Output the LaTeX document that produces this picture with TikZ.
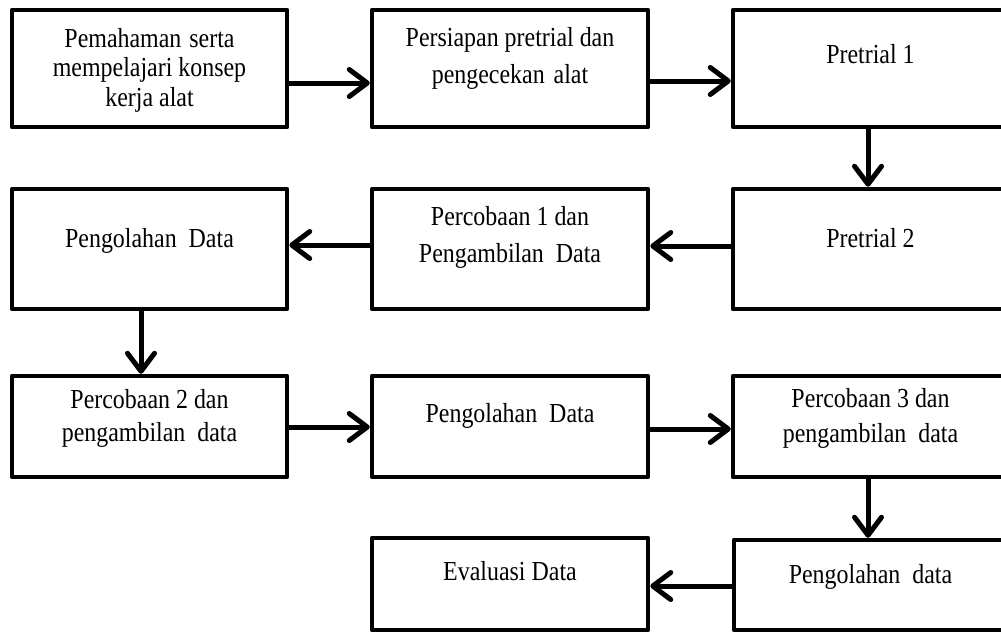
\documentclass[tikz,border=0pt]{standalone}
\usepackage{fontspec}
\setmainfont{Liberation Serif}[FakeStretch=0.87]
\usetikzlibrary{arrows.meta}
\tikzset{
  flowbox/.style={draw=black, line width=4.5pt, line join=round, rectangle, inner sep=0pt},
  flowtext/.style={anchor=base, inner sep=0pt, font=\fontsize{27.5}{#1}\selectfont},
  flowtext/.default=30,
  flowarrow/.style={line width=5pt, -{Straight Barb[length=18pt,width=27pt,round]}}
}
\newcommand\mkbox[5]{%
  \node[flowbox, minimum width=#4-#2, minimum height=#5-#3] (#1) at ({(#2+#4)/2},{(#3+#5)/2}) {};}
\begin{document}
\begin{tikzpicture}[x=1pt,y=-1pt]
\useasboundingbox (0,0) rectangle (1001,632);
\clip (0,0) rectangle (1001,632);
\fill[white] (0,0) rectangle (1001,632);
% boxes
\mkbox{b1}{12}{10}{287}{127}
\mkbox{b2}{372}{10}{648}{127}
\mkbox{b3}{733}{10}{1008}{127}
\mkbox{b4}{12}{189}{287}{309}
\mkbox{b5}{372}{189}{648}{309}
\mkbox{b6}{733}{189}{1008}{309}
\mkbox{b7}{12}{376}{287}{477}
\mkbox{b8}{372}{376}{648}{477}
\mkbox{b9}{733}{376}{1008}{477}
\mkbox{b10}{372}{538}{648}{630}
\mkbox{b11}{734}{540}{1008}{630}
% texts
\node[flowtext=29.5] (t1) at (149.5,47) {\begin{tabular}[t]{@{}c@{}}Pemahaman\hspace{2pt} serta\\ mempelajari konsep\\ kerja alat\end{tabular}};
\node[flowtext=37] (t2) at (510,46) {\begin{tabular}[t]{@{}c@{}}Persiapan pretrial dan\\ pengecekan\hspace{3pt} alat\end{tabular}};
\node[flowtext] (t3) at (870.5,63) {Pretrial 1};
\node[flowtext] (t4) at (149.5,247) {Pengolahan\ \ Data};
\node[flowtext=37] (t5) at (510,225) {\begin{tabular}[t]{@{}c@{}}Percobaan 1 dan\\ Pengambilan\ \ Data\end{tabular}};
\node[flowtext] (t6) at (870.5,247) {Pretrial 2};
\node[flowtext=33] (t7) at (149.5,408) {\begin{tabular}[t]{@{}c@{}}Percobaan 2 dan\\ pengambilan\ \ data\end{tabular}};
\node[flowtext] (t8) at (510,422) {Pengolahan\ \ Data};
\node[flowtext=35] (t9) at (870.5,407) {\begin{tabular}[t]{@{}c@{}}Percobaan 3 dan\\ pengambilan\ \ data\end{tabular}};
\node[flowtext] (t10) at (510,580) {Evaluasi Data};
\node[flowtext] (t11) at (870.5,583) {Pengolahan\ \ data};
% arrows
\draw[flowarrow] ([yshift=-14.5pt]b1.east) -- ([yshift=-14.5pt]b2.west);
\draw[flowarrow] ([yshift=-12.5pt]b2.east) -- ([yshift=-12.5pt]b3.west);
\draw[flowarrow] ([xshift=-2.5pt]b3.south) -- ([xshift=-2.5pt]b6.north);
\draw[flowarrow] ([yshift=3pt]b6.west) -- ([yshift=3pt]b5.east);
\draw[flowarrow] ([yshift=4pt]b5.west) -- ([yshift=4pt]b4.east);
\draw[flowarrow] ([xshift=-8.5pt]b4.south) -- ([xshift=-8.5pt]b7.north);
\draw[flowarrow] ([yshift=-0.5pt]b7.east) -- ([yshift=-0.5pt]b8.west);
\draw[flowarrow] ([yshift=-2.5pt]b8.east) -- ([yshift=-2.5pt]b9.west);
\draw[flowarrow] ([xshift=-2.5pt]b9.south) -- ([xshift=-3pt]b11.north);
\draw[flowarrow] ([yshift=-1pt]b11.west) -- ([yshift=-2pt]b10.east);
\end{tikzpicture}
\end{document}
